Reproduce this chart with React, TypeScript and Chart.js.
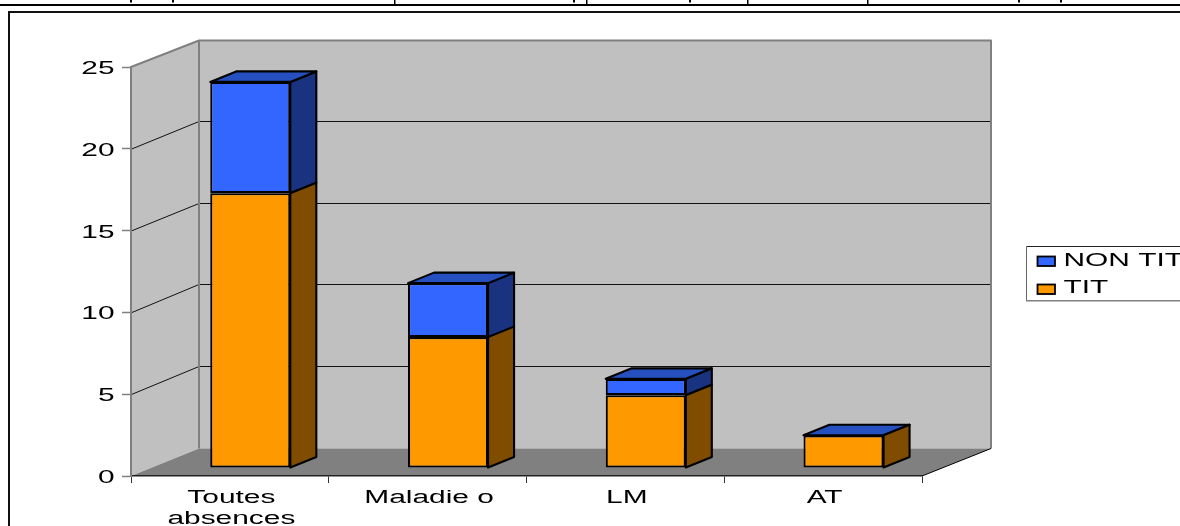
import React, { useEffect, useRef } from "react";
import { Chart, registerables } from "chart.js";

Chart.register(...registerables);

const categories = [["Toutes", "absences"], ["Maladie o"], ["LM"], ["AT"]];
const titValues = [16.8, 8.0, 4.45, 2.0];
const nonTitValues = [6.8, 3.3, 1.0, 0];
const seriesNames = ["TIT", "NON TIT"];
const legendOrder = ["NON TIT", "TIT"];
const frontColors: Record<string, string> = { TIT: "#FF9900", "NON TIT": "#3366FF" };
const sideColors: Record<string, string> = { TIT: "#804D00", "NON TIT": "#1A3380" };
const topColor = "#2650BF";

const FONT = '18px "Liberation Sans", Arial, sans-serif';
const STRETCH = 1.66;
const WALL_DX = 68;
const WALL_DY = -27.5;
const BAR_DX = 20.4;
const BAR_DY = -8;
const SIDE_DX = 26;
const SIDE_DY = -10.5;
const BORDER = 2.1;

function poly(ctx: CanvasRenderingContext2D, pts: number[][], fill?: string, stroke?: string, lw = 1) {
  ctx.lineJoin = "round";
  ctx.beginPath();
  pts.forEach((p, i) => (i ? ctx.lineTo(p[0], p[1]) : ctx.moveTo(p[0], p[1])));
  if (fill) {
    ctx.closePath();
    ctx.fillStyle = fill;
    ctx.fill();
  }
  if (stroke) {
    ctx.strokeStyle = stroke;
    ctx.lineWidth = lw;
    ctx.stroke();
  }
}

function stretched(ctx: CanvasRenderingContext2D, text: string, x: number, y: number, align: CanvasTextAlign) {
  ctx.save();
  ctx.translate(x, y);
  ctx.scale(STRETCH, 1);
  ctx.font = FONT;
  ctx.fillStyle = "#000";
  ctx.textAlign = align;
  ctx.textBaseline = "alphabetic";
  ctx.fillText(text, 0, 0);
  ctx.restore();
}

const scene3d = {
  id: "scene3d",
  beforeDraw(chart: any) {
    const { ctx, chartArea: a, scales } = chart;
    const { left: l, right: r, top: t, bottom: b } = a;
    const bx = l + WALL_DX;
    const brx = r + WALL_DX + 1;
    const by = b + WALL_DY;
    const ty = t + WALL_DY + 1;
    ctx.save();
    // page frame fragments
    ctx.fillStyle = "#000";
    ctx.fillRect(0, 4, 1180, 2);
    [394, 586, 747, 867].forEach((x) => ctx.fillRect(x, 0, 1.5, 5));
    [130, 172, 573, 689, 1018, 1060].forEach((x) => ctx.fillRect(x, 0, 2, 2.5));
    ctx.fillStyle = "#111";
    ctx.fillRect(8, 11, 1172, 2);
    ctx.fillRect(8, 11, 2, 515);
    // walls
    poly(ctx, [[bx, ty], [brx, ty], [brx, by], [bx, by]], "#C0C0C0");
    poly(ctx, [[l, t], [bx, ty], [bx, by], [l, b]], "#C0C0C0");
    poly(ctx, [[l, b], [bx, by], [brx, by], [r, b]], "#808080");
    // gridlines
    scales.y.ticks.forEach((tk: any) => {
      if (tk.value === 0 || tk.value === 25) return;
      const y = scales.y.getPixelForValue(tk.value);
      const yb = Math.floor(y + WALL_DY) + 0.5;
      poly(ctx, [[l, y + 0.5], [bx, yb], [brx, yb]], undefined, "#111", 1);
    });
    poly(ctx, [[l, t], [bx, ty], [brx, ty], [brx, by]], undefined, "#808080", 2);
    poly(ctx, [[bx, ty], [bx, by]], undefined, "#808080", 2);
    poly(ctx, [[r, b], [brx, by]], undefined, "#000", 1);
    ctx.restore();
  },
  beforeDatasetDraw(chart: any, args: any) {
    const { ctx } = chart;
    ctx.save();
    ctx.translate(BAR_DX, BAR_DY);
    const name = seriesNames[args.index];
    args.meta.data.forEach((el: any) => {
      const x1 = el.x + el.width / 2;
      const x0 = el.x - el.width / 2;
      poly(
        ctx,
        [[x1, el.y], [x1 + SIDE_DX, el.y + SIDE_DY], [x1 + SIDE_DX, el.base + SIDE_DY], [x1, el.base]],
        sideColors[name],
        "#000",
        BORDER
      );
      if (name === "NON TIT") {
        poly(
          ctx,
          [[x0, el.y], [x0 + SIDE_DX, el.y + SIDE_DY], [x1 + SIDE_DX, el.y + SIDE_DY], [x1, el.y]],
          topColor,
          "#000",
          BORDER
        );
      }
    });
  },
  afterDatasetDraw(chart: any) {
    chart.ctx.restore();
  },
  afterDraw(chart: any) {
    const { ctx, scales } = chart;
    scales.y.ticks.forEach((tk: any) => {
      stretched(ctx, String(tk.value), 114.5, scales.y.getPixelForValue(tk.value) + 7, "right");
    });
    categories.forEach((lines, i) => {
      const cx = scales.x.getPixelForValue(i) + 1.5;
      lines.forEach((text, j) => stretched(ctx, text, cx, 503 + j * 20.5, "center"));
    });
    // legend
    ctx.save();
    ctx.fillStyle = "#fff";
    ctx.fillRect(1026, 246, 154, 55);
    ctx.strokeStyle = "#222";
    ctx.lineWidth = 1;
    ctx.beginPath();
    ctx.moveTo(1180, 246.5);
    ctx.lineTo(1026.5, 246.5);
    ctx.stroke();
    ctx.strokeStyle = "#666";
    ctx.beginPath();
    ctx.moveTo(1026.5, 246.5);
    ctx.lineTo(1026.5, 300.5);
    ctx.stroke();
    ctx.fillStyle = "#808080";
    ctx.fillRect(1026, 300, 154, 1.5);
    legendOrder.forEach((name, i) => {
      const y = i === 0 ? 256.5 : 284.5;
      ctx.fillStyle = frontColors[name];
      ctx.strokeStyle = "#000";
      ctx.lineWidth = 1.8;
      ctx.fillRect(1037.5, y, 17.5, 9.5);
      ctx.strokeRect(1037.5, y, 17.5, 9.5);
      stretched(ctx, name, 1063.5, i === 0 ? 266 : 293, "left");
    });
    ctx.restore();
  },
};

export default function App() {
  const ref = useRef<HTMLCanvasElement | null>(null);
  useEffect(() => {
    const chart = new Chart(ref.current as HTMLCanvasElement, {
      type: "bar",
      data: {
        labels: categories.map((c) => c.join(" ")),
        datasets: [
          { label: seriesNames[0], data: titValues, backgroundColor: frontColors.TIT, clip: false } as any,
          { label: seriesNames[1], data: nonTitValues, backgroundColor: frontColors["NON TIT"], clip: false } as any,
        ],
      },
      options: {
        animation: false,
        responsive: false,
        devicePixelRatio: 1,
        layout: { padding: { top: 67, right: 258, left: 0, bottom: 0 } },
        datasets: {
          bar: {
            barPercentage: 0.81,
            categoryPercentage: 0.5,
            borderColor: "#000",
            borderWidth: BORDER,
            borderSkipped: false,
          },
        },
        plugins: { legend: { display: false }, title: { display: false }, tooltip: { enabled: false } },
        scales: {
          x: {
            stacked: true,
            afterFit: (s: any) => {
              s.height = 50;
            },
            ticks: { display: false },
            grid: { drawOnChartArea: false, tickLength: 7, tickColor: "#333" },
            border: { color: "#222", width: 1.5 },
          },
          y: {
            stacked: true,
            min: 0,
            max: 25,
            afterFit: (s: any) => {
              s.width = 131;
            },
            ticks: { display: false, stepSize: 5 },
            grid: { drawOnChartArea: false, tickLength: 9, tickColor: "#808080", tickWidth: 1.5 },
            border: { color: "#808080", width: 2 },
          },
        },
      } as any,
      plugins: [scene3d],
    });
    return () => chart.destroy();
  }, []);
  return (
    <canvas
      ref={ref}
      width={1180}
      height={526}
      style={{ position: "absolute", left: 0, top: 0, width: 1180, height: 526, display: "block" }}
    />
  );
}
